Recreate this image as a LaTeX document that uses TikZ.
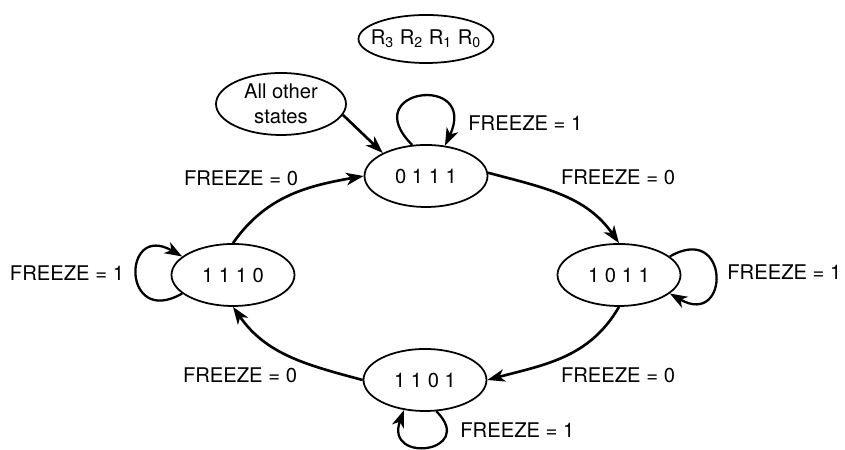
\documentclass[tikz,border=0pt]{standalone}
\usepackage{fontspec}
\setmainfont{TeX Gyre Heros}
\usetikzlibrary{arrows.meta,shapes.geometric}

\begin{document}
\begin{tikzpicture}[x=0.2mm, y=0.2mm, >={Stealth[length=3.5mm, width=2.5mm, inset=1mm]},
    font=\fontsize{11.5}{14}\selectfont,
    st/.style={draw, ellipse, line width=1pt, minimum width=24.6mm, minimum height=12.4mm, inner sep=0pt},
    lbl/.style={inner sep=0pt},
    tr/.style={->, line width=1.5pt},
    lp/.style={->, line width=1.3pt}]
  \useasboundingbox (0,0) rectangle (845,450);
  % states
  \node[st, minimum width=27mm, minimum height=9.6mm, inner xsep=-1.5mm] (regs) at (426,411) {R\textsubscript{3} R\textsubscript{2} R\textsubscript{1} R\textsubscript{0}};
  \node[st, minimum width=26mm, inner xsep=-1mm, align=center] (other) at (281,346) {All other\\states};
  \node[st] (s0111) at (426,274) {0 1 1 1};
  \node[st] (s1110) at (233,175) {1 1 1 0};
  \node[st] (s1011) at (619,175) {1 0 1 1};
  \node[st] (s1101) at (425,70) {1 1 0 1};
  % labels
  \node[lbl] (f0a) at (241,272) {FREEZE = 0};
  \node[lbl] (f0b) at (618,273) {FREEZE = 0};
  \node[lbl] (f0c) at (240,75) {FREEZE = 0};
  \node[lbl] (f0d) at (618,75) {FREEZE = 0};
  \node[lbl, anchor=west] (f1a) at (468,327) {FREEZE = 1};
  \node[lbl] (f1b) at (67,177) {FREEZE = 1};
  \node[lbl, anchor=west] (f1c) at (727,178) {FREEZE = 1};
  \node[lbl, anchor=west] (f1d) at (460,20) {FREEZE = 1};
  % transitions
  \draw[tr] (s0111.3) to[out=-15, in=125] (s1011.north);
  \draw[tr] (s1011.south) to[out=-120, in=15] (s1101.east);
  \draw[tr] (s1101.west) to[out=165, in=-55] (s1110.south);
  \draw[tr] (s1110.north) to[out=55, in=190] (s0111.west);
  \draw[tr] (other.-10) -- (s0111.152);
  % self loops
  \draw[lp] (s0111.114) .. controls +(135:80) and +(65:80) .. (s0111.58);
  \draw[lp] (s1110.200) .. controls +(210:70) and +(150:70) .. (s1110.160);
  \draw[lp] (s1011.20) .. controls +(30:70) and +(-30:70) .. (s1011.-20);
  \draw[lp] (s1101.-70) .. controls +(-45:58) and +(-110:58) .. (s1101.-125);
\end{tikzpicture}
\end{document}
